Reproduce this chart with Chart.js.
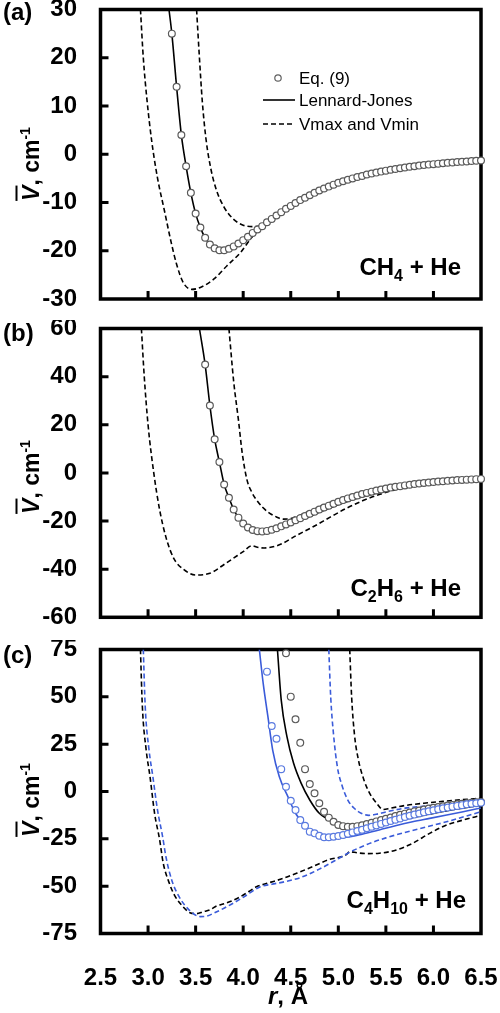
<!DOCTYPE html>
<html><head><meta charset="utf-8">
<script src="https://cdn.jsdelivr.net/npm/chart.js@4.4.1/dist/chart.umd.min.js"></script>
<style>
html,body{margin:0;padding:0;background:#fff;}
#wrap{position:relative;width:500px;height:1013px;overflow:hidden;font-family:"Liberation Sans",Arial,sans-serif;color:#000;}
canvas{position:absolute;left:0;}
.lbl{position:absolute;white-space:nowrap;font-weight:bold;}
.leg{position:absolute;white-space:nowrap;font-size:17px;line-height:17px;left:299px;}
.sub{font-size:16px;position:relative;top:6px;}
.ytitle{position:absolute;white-space:nowrap;font-weight:bold;font-size:23px;line-height:26px;transform:translate(-50%,-50%) rotate(-90deg);}
.ytitle .v{font-style:italic;text-decoration:overline;}
.ytitle .sup{font-size:14px;position:relative;top:-9px;}
</style></head><body>
<div id="wrap">
<canvas id="ca" width="500" height="320" style="top:0"></canvas>
<canvas id="cb" width="500" height="320" style="top:320px"></canvas>
<canvas id="cc" width="500" height="373" style="top:640px"></canvas>

<div class="lbl" style="left:3px;top:0px;font-size:24px;line-height:24px">(a)</div>
<div class="lbl" style="left:3px;top:321px;font-size:24px;line-height:24px">(b)</div>
<div class="lbl" style="left:3px;top:643px;font-size:24px;line-height:24px">(c)</div>

<div class="ytitle" style="left:32px;top:164px"><span class="v">V</span>, cm<span class="sup">-1</span></div>
<div class="ytitle" style="left:32px;top:477px"><span class="v">V</span>, cm<span class="sup">-1</span></div>
<div class="ytitle" style="left:32px;top:800px"><span class="v">V</span>, cm<span class="sup">-1</span></div>

<div class="lbl" style="right:39px;top:255px;font-size:24px;line-height:24px">CH<span class="sub">4</span> + He</div>
<div class="lbl" style="right:39px;top:576px;font-size:24px;line-height:24px">C<span class="sub">2</span>H<span class="sub">6</span> + He</div>
<div class="lbl" style="right:34px;top:888px;font-size:24px;line-height:24px">C<span class="sub">4</span>H<span class="sub">10</span> + He</div>

<div class="lbl" style="left:288px;top:996px;font-size:24px;line-height:24px;transform:translate(-50%,-50%)"><i>r</i>, Å</div>

<svg style="position:absolute;left:0;top:0" width="500" height="200">
  <circle cx="278" cy="78" r="3.2" fill="#fff" stroke="#606060" stroke-width="1.2"/>
  <line x1="263" y1="100" x2="295" y2="100" stroke="#000" stroke-width="1.6"/>
  <line x1="263" y1="124" x2="295" y2="124" stroke="#000" stroke-width="1.6" stroke-dasharray="5,3"/>
</svg>
<div class="leg" style="top:70px">Eq. (9)</div>
<div class="leg" style="top:92px">Lennard-Jones</div>
<div class="leg" style="top:116px">Vmax and Vmin</div>
</div>

<script>
// ---------- tick values ----------
const xTicks = [2.5, 3.0, 3.5, 4.0, 4.5, 5.0, 5.5, 6.0, 6.5];
const yTicksA = [-30, -20, -10, 0, 10, 20, 30];
const yTicksB = [-60, -40, -20, 0, 20, 40, 60];
const yTicksC = [-75, -50, -25, 0, 25, 50, 75];

// ---------- panel (a) CH4 + He ----------
const rEqA = [3.25,3.30,3.35,3.40,3.45,3.50,3.55,3.60,3.65,3.70,3.75,3.80,3.85,3.90,3.95,4.00,4.05,4.10,4.15,4.20,4.25,4.30,4.35,4.40,4.45,4.50,4.55,4.60,4.65,4.70,4.75,4.80,4.85,4.90,4.95,5.00,5.05,5.10,5.15,5.20,5.25,5.30,5.35,5.40,5.45,5.50,5.55,5.60,5.65,5.70,5.75,5.80,5.85,5.90,5.95,6.00,6.05,6.10,6.15,6.20,6.25,6.30,6.35,6.40,6.45,6.50];
const vEqA = [25,14,4,-2.5,-8,-12.3,-15.2,-17.3,-18.7,-19.5,-19.9,-19.9,-19.6,-19.1,-18.5,-17.8,-17.1,-16.3,-15.6,-14.9,-14.1,-13.4,-12.7,-12.0,-11.3,-10.7,-10.1,-9.5,-9.0,-8.5,-8.0,-7.5,-7.1,-6.7,-6.3,-5.9,-5.6,-5.3,-5.0,-4.7,-4.5,-4.2,-4.0,-3.8,-3.6,-3.4,-3.2,-3.05,-2.9,-2.75,-2.6,-2.5,-2.35,-2.25,-2.15,-2.05,-1.95,-1.85,-1.75,-1.7,-1.6,-1.55,-1.5,-1.4,-1.35,-1.3];
const rLJA = [3.22,3.25,3.30,3.35,3.40,3.45,3.50,3.55,3.60,3.70,3.80,3.90,4.00,4.10,4.20,4.40,4.60,4.80,5.00,5.30,5.60,6.00,6.50];
const vLJA = [30,25,14,4,-2.5,-8,-12.3,-15.2,-17.3,-19.5,-19.9,-19.2,-18.1,-16.7,-15.3,-12.4,-9.9,-7.9,-6.3,-4.6,-3.4,-2.3,-1.4];
const rMinA = [2.92,2.95,2.99,3.04,3.10,3.17,3.24,3.30,3.37,3.46,3.55,3.69,3.83,3.97,4.10,4.20,4.40,4.60,4.80,5.00,5.30,5.60,6.00,6.50];
const vMinA = [30,20,11,2.5,-5,-11.5,-18,-22.8,-26.6,-28,-27.6,-25.9,-23.1,-20.4,-17.0,-15.1,-12.2,-9.7,-7.7,-6.1,-4.5,-3.3,-2.2,-1.35];
const rMaxA = [3.51,3.54,3.57,3.61,3.66,3.72,3.80,3.90,4.00,4.10,4.18,4.25,4.40,4.60,4.80,5.00,5.30,5.60,6.00,6.50];
const vMaxA = [30,20,11,3,-3,-7.5,-11,-13.5,-14.7,-15.0,-14.8,-14.1,-12.0,-9.5,-7.5,-5.9,-4.2,-3.05,-2.05,-1.3];

// ---------- panel (b) C2H6 + He ----------
const rEqB = [3.60,3.65,3.70,3.75,3.80,3.85,3.90,3.95,4.00,4.05,4.10,4.15,4.20,4.25,4.30,4.35,4.40,4.45,4.50,4.55,4.60,4.65,4.70,4.75,4.80,4.85,4.90,4.95,5.00,5.05,5.10,5.15,5.20,5.25,5.30,5.35,5.40,5.45,5.50,5.55,5.60,5.65,5.70,5.75,5.80,5.85,5.90,5.95,6.00,6.05,6.10,6.15,6.20,6.25,6.30,6.35,6.40,6.45,6.50];
const vEqB = [45,28,14,4.5,-4.8,-10.3,-15.2,-18.6,-21.0,-22.7,-23.7,-24.2,-24.3,-24.1,-23.6,-23.0,-22.2,-21.4,-20.6,-19.7,-18.8,-17.9,-17.0,-16.1,-15.2,-14.4,-13.6,-12.8,-12.0,-11.3,-10.6,-10.0,-9.4,-8.8,-8.3,-7.8,-7.3,-6.9,-6.5,-6.1,-5.8,-5.5,-5.2,-4.9,-4.6,-4.4,-4.2,-4.0,-3.8,-3.6,-3.45,-3.3,-3.15,-3.0,-2.9,-2.8,-2.7,-2.6,-2.5];
const rLJB = [3.54,3.60,3.65,3.70,3.75,3.80,3.85,3.90,3.95,4.00,4.10,4.20,4.30,4.40,4.60,4.80,5.00,5.20,5.40,5.70,6.00,6.50];
const vLJB = [60,45,28,14,4.5,-4.8,-10.3,-15.2,-18.6,-21.0,-23.8,-24.5,-24.0,-22.9,-19.8,-16.4,-13.2,-10.5,-8.4,-6.0,-4.4,-2.6];
const rMinB = [2.93,2.96,3.00,3.06,3.12,3.19,3.27,3.37,3.50,3.65,3.82,4.00,4.09,4.15,4.22,4.38,4.56,4.73,4.91,5.08,5.26,5.43,5.60,5.80,6.00,6.20,6.50];
const vMinB = [60,40,20,0,-15,-27,-35.5,-40,-42.4,-41.7,-37.5,-32.7,-30.3,-30.9,-31.2,-29.9,-26,-22.5,-18.5,-14.8,-11.5,-9.0,-7.0,-5.4,-4.3,-3.4,-2.6];
const rMaxB = [3.85,3.90,3.95,3.99,4.04,4.09,4.14,4.21,4.28,4.35,4.42,4.50,4.60,4.75,4.91,5.08,5.26,5.43,5.60,5.80,6.00,6.20,6.50];
const vMaxB = [60,38,22,8.2,-2.9,-8,-11.2,-14.5,-16.8,-18.3,-19.2,-19.0,-17.5,-15.0,-12.3,-9.9,-7.8,-6.2,-5.2,-4.3,-3.6,-3.0,-2.4];

// ---------- panel (c) C4H10 + He (black and blue) ----------
const rEqCk = [4.45,4.50,4.55,4.60,4.65,4.70,4.75,4.80,4.85,4.90,4.95,5.00,5.05,5.10,5.15,5.20,5.25,5.30,5.35,5.40,5.45,5.50,5.55,5.60,5.65,5.70,5.75,5.80,5.85,5.90,5.95,6.00,6.05,6.10,6.15,6.20,6.25,6.30,6.35,6.40,6.45,6.50];
const vEqCk = [73,50.1,38.1,25.7,11.8,3.9,-0.9,-6.2,-10.7,-13.8,-16.0,-17.7,-18.3,-18.6,-18.6,-18.3,-17.8,-17.2,-16.5,-15.8,-15.1,-14.4,-13.7,-13.0,-12.3,-11.7,-11.1,-10.5,-10.0,-9.5,-9.0,-8.6,-8.2,-7.8,-7.4,-7.1,-6.8,-6.5,-6.2,-5.9,-5.7,-5.5];
const rEqCb = [4.25,4.30,4.35,4.40,4.45,4.50,4.55,4.60,4.65,4.70,4.75,4.80,4.85,4.90,4.95,5.00,5.05,5.10,5.15,5.20,5.25,5.30,5.35,5.40,5.45,5.50,5.55,5.60,5.65,5.70,5.75,5.80,5.85,5.90,5.95,6.00,6.05,6.10,6.15,6.20,6.25,6.30,6.35,6.40,6.45,6.50];
const vEqCb = [63.3,34.6,27.9,11.8,2.5,-4.9,-9.8,-15.1,-18.1,-21.2,-22.1,-23.4,-24.2,-24.2,-23.9,-23.5,-23.0,-22.3,-21.6,-20.9,-20.2,-19.4,-18.6,-17.9,-17.1,-16.4,-15.6,-14.9,-14.2,-13.5,-12.8,-12.2,-11.6,-11.0,-10.4,-9.9,-9.4,-8.9,-8.5,-8.0,-7.6,-7.2,-6.8,-6.5,-6.2,-5.9];
const rLJCk = [4.36,4.40,4.46,4.53,4.61,4.70,4.80,4.95,5.12,5.30,5.50,5.70,5.90,6.10,6.30,6.50];
const vLJCk = [75,48.3,29,14.9,4.3,-4.5,-11.5,-16.0,-18.6,-18.4,-16.8,-14.6,-12.5,-10.5,-8.8,-7.2];
const rLJCb = [4.17,4.21,4.26,4.31,4.38,4.47,4.55,4.66,4.80,4.95,5.08,5.25,5.43,5.60,5.78,5.96,6.14,6.30,6.50];
const vLJCb = [75,57.2,39.5,21.9,7.8,-2.7,-11.5,-18.6,-23.0,-24.7,-24.2,-22.5,-20.3,-18.1,-16.0,-14.2,-12.4,-10.8,-8.7];
const rMaxCk = [5.12,5.14,5.17,5.21,5.27,5.33,5.40,5.47,5.55,5.70,5.90,6.10,6.30,6.50];
const vMaxCk = [75,50,30,17,6,-1,-6,-9.5,-8.8,-7.4,-6.2,-5.2,-4.3,-3.6];
const rMaxCb = [4.90,4.92,4.95,4.99,5.04,5.10,5.17,5.24,5.32,5.40,5.50,5.70,5.90,6.10,6.30,6.50];
const vMaxCb = [75,50,30,13,3,-4.5,-9,-11.5,-12.6,-12.0,-10.8,-8.8,-7.8,-6.9,-6.0,-5.3];
const rMinCk = [2.92,2.94,2.98,3.02,3.07,3.12,3.16,3.22,3.28,3.37,3.44,3.51,3.58,3.65,3.72,3.79,3.88,3.97,4.06,4.14,4.25,4.42,4.60,4.73,4.90,5.08,5.12,5.20,5.30,5.43,5.61,5.78,5.96,6.14,6.31,6.50];
const vMinCk = [75,45,22,8,-12,-25,-38,-48,-55,-61,-64,-64.5,-63.5,-62.5,-60.5,-59.4,-57.8,-55.6,-52.8,-50.3,-48.5,-45.9,-42.4,-39.7,-36,-33.5,-31.8,-32.4,-32.8,-32.6,-30.9,-27.4,-22.1,-17.7,-15.1,-12.6];
const rMinCb = [2.95,2.97,3.01,3.05,3.10,3.15,3.19,3.25,3.32,3.43,3.55,3.62,3.69,3.83,4.00,4.18,4.30,4.45,4.60,4.80,5.00,5.10,5.30,5.50,5.80,6.10,6.50];
const vMinCb = [75,45,22,8,-10,-23,-35,-47,-55,-62.5,-66.1,-65.8,-64.3,-60.8,-55.9,-50.3,-49.0,-47.5,-45.5,-41,-35.5,-32.6,-28,-24.5,-20.3,-16.5,-10.7];

// ---------- styling helpers ----------
const FONT = '"Liberation Sans", Arial, sans-serif';
const BLUE = '#3a5bd9';
const BLUE_PT = '#5b7be0';
const GRAY_PT = '#5a5a5a';

function pts(xs, ys) { return xs.map((x, i) => ({ x: x, y: ys[i] })); }
function circles(xs, ys, color) {
  return { data: pts(xs, ys), showLine: false, pointRadius: 3.4, pointBorderWidth: 1.2,
           pointBorderColor: color, pointBackgroundColor: '#fff', clip: 8 };
}
function curve(xs, ys, color, dashed) {
  return { data: pts(xs, ys), borderColor: color, borderWidth: 1.6,
           borderDash: dashed ? [5, 3] : [], pointRadius: 0,
           cubicInterpolationMode: 'monotone', fill: false };
}

const framePlugin = {
  id: 'frame',
  beforeDatasetsDraw(chart, args, opts) {
    const ctx = chart.ctx, a = chart.chartArea;
    const xs = chart.scales.x, ys = chart.scales.y;
    ctx.save();
    ctx.strokeStyle = '#000';
    ctx.lineWidth = 3;
    ctx.beginPath();
    xTicks.slice(1, -1).forEach(v => {
      const px = xs.getPixelForValue(v);
      ctx.moveTo(px, a.bottom); ctx.lineTo(px, a.bottom - 8);
    });
    opts.yTicks.slice(1, -1).forEach(v => {
      const py = ys.getPixelForValue(v);
      ctx.moveTo(a.left, py); ctx.lineTo(a.left + 8, py);
    });
    ctx.stroke();
    ctx.lineWidth = 3.5;
    ctx.strokeRect(a.left, a.top, a.right - a.left, a.bottom - a.top);
    ctx.restore();
  }
};

function makeChart(id, datasets, yTicks, pad, showX) {
  const yMin = yTicks[0], yMax = yTicks[yTicks.length - 1];
  return new Chart(document.getElementById(id), {
    type: 'line',
    data: { datasets: datasets },
    options: {
      responsive: false, animation: false, events: [],
      layout: { padding: pad },
      plugins: { legend: { display: false }, tooltip: { enabled: false }, frame: { yTicks: yTicks } },
      scales: {
        x: {
          type: 'linear', min: 2.5, max: 6.5, display: showX,
          afterBuildTicks: s => { s.ticks = xTicks.map(v => ({ value: v })); },
          ticks: { padding: 30, color: '#000', maxRotation: 0, autoSkip: false,
                   font: { family: FONT, size: 24, weight: 'bold' },
                   callback: v => Number(v).toFixed(1) },
          grid: { display: false, drawTicks: false }, border: { display: false },
          afterFit: s => { s.height = showX ? 79.5 : 0; s.paddingLeft = 0; s.paddingRight = 0; }
        },
        y: {
          type: 'linear', min: yMin, max: yMax,
          afterBuildTicks: s => { s.ticks = yTicks.map(v => ({ value: v })); },
          ticks: { padding: 23.5, color: '#000', font: { family: FONT, size: 24, weight: 'bold' } },
          grid: { display: false, drawTicks: false }, border: { display: false },
          afterFit: s => { s.width = 100.5; s.paddingTop = 0; s.paddingBottom = 0; }
        }
      }
    },
    plugins: [framePlugin]
  });
}

makeChart('ca', [
  circles(rEqA, vEqA, GRAY_PT),
  curve(rLJA, vLJA, '#000', false),
  curve(rMaxA, vMaxA, '#000', true),
  curve(rMinA, vMinA, '#000', true)
], yTicksA, { top: 9.5, bottom: 21, left: 0, right: 19 }, false);

makeChart('cb', [
  circles(rEqB, vEqB, GRAY_PT),
  curve(rLJB, vLJB, '#000', false),
  curve(rMaxB, vMaxB, '#000', true),
  curve(rMinB, vMinB, '#000', true)
], yTicksB, { top: 8.5, bottom: 22.7, left: 0, right: 19 }, false);

makeChart('cc', [
  circles(rEqCb, vEqCb, BLUE_PT),
  circles(rEqCk, vEqCk, GRAY_PT),
  curve(rLJCb, vLJCb, BLUE, false),
  curve(rLJCk, vLJCk, '#000', false),
  curve(rMaxCb, vMaxCb, BLUE, true),
  curve(rMaxCk, vMaxCk, '#000', true),
  curve(rMinCb, vMinCb, BLUE, true),
  curve(rMinCk, vMinCk, '#000', true)
], yTicksC, { top: 9.5, bottom: 0, left: 0, right: 19 }, true);
</script>
</body></html>
